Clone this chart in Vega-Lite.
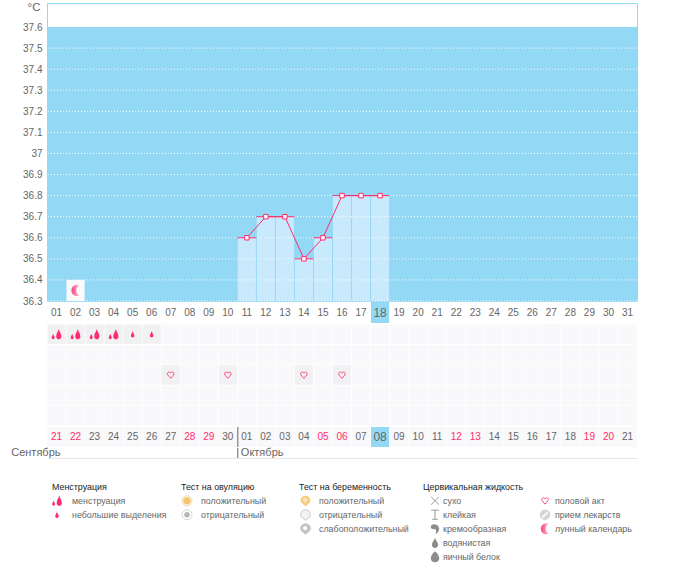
{
  "$schema": "https://vega.github.io/schema/vega-lite/v6.json",
  "background": "white",
  "padding": {"left": 11, "top": 0, "right": 0, "bottom": 0},
  "config": {
    "view": {"stroke": null},
    "font": "Liberation Sans",
    "text": {"font": "Liberation Sans"},
    "point": {"opacity": 1}
  },
  "datasets": {
    "days": [
      {"d":"01","date":"21","off":true},{"d":"02","date":"22","off":true},{"d":"03","date":"23","off":false},{"d":"04","date":"24","off":false},
      {"d":"05","date":"25","off":false},{"d":"06","date":"26","off":false},{"d":"07","date":"27","off":false},{"d":"08","date":"28","off":true},
      {"d":"09","date":"29","off":true},{"d":"10","date":"30","off":false},{"d":"11","date":"01","off":false},{"d":"12","date":"02","off":false},
      {"d":"13","date":"03","off":false},{"d":"14","date":"04","off":false},{"d":"15","date":"05","off":true},{"d":"16","date":"06","off":true},
      {"d":"17","date":"07","off":false},{"d":"18","date":"08","off":false},{"d":"19","date":"09","off":false},{"d":"20","date":"10","off":false},
      {"d":"21","date":"11","off":false},{"d":"22","date":"12","off":true},{"d":"23","date":"13","off":true},{"d":"24","date":"14","off":false},
      {"d":"25","date":"15","off":false},{"d":"26","date":"16","off":false},{"d":"27","date":"17","off":false},{"d":"28","date":"18","off":false},
      {"d":"29","date":"19","off":true},{"d":"30","date":"20","off":true},{"d":"31","date":"21","off":false}
    ],
    "temps": [
      {"d":"11","t":36.6},{"d":"12","t":36.7},{"d":"13","t":36.7},{"d":"14","t":36.5},
      {"d":"15","t":36.6},{"d":"16","t":36.8},{"d":"17","t":36.8},{"d":"18","t":36.8}
    ],
    "grid": [
      {"t":36.3},{"t":36.4},{"t":36.5},{"t":36.6},{"t":36.7},{"t":36.8},{"t":36.9},
      {"t":37.0},{"t":37.1},{"t":37.2},{"t":37.3},{"t":37.4},{"t":37.5}
    ],
    "cells": [
      {"d":"01","r":1},{"d":"02","r":1},{"d":"03","r":1},{"d":"04","r":1},{"d":"05","r":1},{"d":"06","r":1},{"d":"07","r":1},{"d":"08","r":1},{"d":"09","r":1},{"d":"10","r":1},{"d":"11","r":1},{"d":"12","r":1},{"d":"13","r":1},{"d":"14","r":1},{"d":"15","r":1},{"d":"16","r":1},{"d":"17","r":1},{"d":"18","r":1},{"d":"19","r":1},{"d":"20","r":1},{"d":"21","r":1},{"d":"22","r":1},{"d":"23","r":1},{"d":"24","r":1},{"d":"25","r":1},{"d":"26","r":1},{"d":"27","r":1},{"d":"28","r":1},{"d":"29","r":1},{"d":"30","r":1},{"d":"31","r":1},
      {"d":"01","r":2},{"d":"02","r":2},{"d":"03","r":2},{"d":"04","r":2},{"d":"05","r":2},{"d":"06","r":2},{"d":"07","r":2},{"d":"08","r":2},{"d":"09","r":2},{"d":"10","r":2},{"d":"11","r":2},{"d":"12","r":2},{"d":"13","r":2},{"d":"14","r":2},{"d":"15","r":2},{"d":"16","r":2},{"d":"17","r":2},{"d":"18","r":2},{"d":"19","r":2},{"d":"20","r":2},{"d":"21","r":2},{"d":"22","r":2},{"d":"23","r":2},{"d":"24","r":2},{"d":"25","r":2},{"d":"26","r":2},{"d":"27","r":2},{"d":"28","r":2},{"d":"29","r":2},{"d":"30","r":2},{"d":"31","r":2},
      {"d":"01","r":3},{"d":"02","r":3},{"d":"03","r":3},{"d":"04","r":3},{"d":"05","r":3},{"d":"06","r":3},{"d":"07","r":3},{"d":"08","r":3},{"d":"09","r":3},{"d":"10","r":3},{"d":"11","r":3},{"d":"12","r":3},{"d":"13","r":3},{"d":"14","r":3},{"d":"15","r":3},{"d":"16","r":3},{"d":"17","r":3},{"d":"18","r":3},{"d":"19","r":3},{"d":"20","r":3},{"d":"21","r":3},{"d":"22","r":3},{"d":"23","r":3},{"d":"24","r":3},{"d":"25","r":3},{"d":"26","r":3},{"d":"27","r":3},{"d":"28","r":3},{"d":"29","r":3},{"d":"30","r":3},{"d":"31","r":3},
      {"d":"01","r":4},{"d":"02","r":4},{"d":"03","r":4},{"d":"04","r":4},{"d":"05","r":4},{"d":"06","r":4},{"d":"07","r":4},{"d":"08","r":4},{"d":"09","r":4},{"d":"10","r":4},{"d":"11","r":4},{"d":"12","r":4},{"d":"13","r":4},{"d":"14","r":4},{"d":"15","r":4},{"d":"16","r":4},{"d":"17","r":4},{"d":"18","r":4},{"d":"19","r":4},{"d":"20","r":4},{"d":"21","r":4},{"d":"22","r":4},{"d":"23","r":4},{"d":"24","r":4},{"d":"25","r":4},{"d":"26","r":4},{"d":"27","r":4},{"d":"28","r":4},{"d":"29","r":4},{"d":"30","r":4},{"d":"31","r":4},
      {"d":"01","r":5},{"d":"02","r":5},{"d":"03","r":5},{"d":"04","r":5},{"d":"05","r":5},{"d":"06","r":5},{"d":"07","r":5},{"d":"08","r":5},{"d":"09","r":5},{"d":"10","r":5},{"d":"11","r":5},{"d":"12","r":5},{"d":"13","r":5},{"d":"14","r":5},{"d":"15","r":5},{"d":"16","r":5},{"d":"17","r":5},{"d":"18","r":5},{"d":"19","r":5},{"d":"20","r":5},{"d":"21","r":5},{"d":"22","r":5},{"d":"23","r":5},{"d":"24","r":5},{"d":"25","r":5},{"d":"26","r":5},{"d":"27","r":5},{"d":"28","r":5},{"d":"29","r":5},{"d":"30","r":5},{"d":"31","r":5}
    ],
    "events": [
      {"d":"01","r":1,"icon":"drop2"},{"d":"02","r":1,"icon":"drop2"},{"d":"03","r":1,"icon":"drop2"},{"d":"04","r":1,"icon":"drop2"},
      {"d":"05","r":1,"icon":"drop1"},{"d":"06","r":1,"icon":"drop1"}
    ],
    "acts": [
      {"d":"07","r":3},{"d":"10","r":3},{"d":"14","r":3},{"d":"16","r":3}
    ],
    "legendText": [
      {"col":1,"line":0,"label":"Менструация"},
      {"col":2,"line":0,"label":"Тест на овуляцию"},
      {"col":3,"line":0,"label":"Тест на беременность"},
      {"col":4,"line":0,"label":"Цервикальная жидкость"}
    ],
    "legendItems": [
      {"col":1.2,"line":1,"label":"менструация"},
      {"col":1.2,"line":2,"label":"небольшие выделения"},
      {"col":2.2,"line":1,"label":"положительный"},
      {"col":2.2,"line":2,"label":"отрицательный"},
      {"col":3.2,"line":1,"label":"положительный"},
      {"col":3.2,"line":2,"label":"отрицательный"},
      {"col":3.2,"line":3,"label":"слабоположительный"},
      {"col":4.2,"line":1,"label":"сухо"},
      {"col":4.2,"line":2,"label":"клейкая"},
      {"col":4.2,"line":3,"label":"кремообразная"},
      {"col":4.2,"line":4,"label":"водянистая"},
      {"col":4.2,"line":5,"label":"яичный белок"},
      {"col":5.2,"line":1,"label":"половой акт"},
      {"col":5.2,"line":2,"label":"прием лекарств"},
      {"col":5.2,"line":3,"label":"лунный календарь"}
    ],
    "legendFill": [
      {"col":1.1,"line":1,"icon":"drop2"},
      {"col":1.1,"line":2,"icon":"drop1"},
      {"col":2.1,"line":1,"icon":"coreOrange"},
      {"col":2.1,"line":2,"icon":"coreGrey"},
      {"col":3.1,"line":1,"icon":"shieldOrange"},
      {"col":3.1,"line":1,"icon":"blobPale"},
      {"col":3.1,"line":2,"icon":"shieldPale"},
      {"col":3.1,"line":3,"icon":"shieldGrey"},
      {"col":3.1,"line":3,"icon":"blobWhite"},
      {"col":4.1,"line":3,"icon":"cream"},
      {"col":4.1,"line":4,"icon":"water"},
      {"col":4.1,"line":5,"icon":"egg"},
      {"col":5.1,"line":2,"icon":"pill"},
      {"col":5.1,"line":2,"icon":"pillLine"}
    ],
    "legendOutline": [
      {"col":2.1,"line":1,"icon":"ringOrange"},
      {"col":2.1,"line":2,"icon":"ringGrey"},
      {"col":3.1,"line":2,"icon":"shieldLine"},
      {"col":3.1,"line":3,"icon":"shieldLine"},
      {"col":4.1,"line":1,"icon":"cross"},
      {"col":4.1,"line":2,"icon":"glue"},
      {"col":5.1,"line":1,"icon":"heart"}
    ]
  },
  "spacing": 1,
  "bounds": "flush",
  "vconcat": [
    {
      "width": 590,
      "height": 298,
      "view": {"stroke": "#93d9f6"},
      "encoding": {
        "x": {
          "field": "d",
          "type": "nominal",
          "axis": null,
          "scale": {
            "domain": ["01","02","03","04","05","06","07","08","09","10","11","12","13","14","15","16","17","18","19","20","21","22","23","24","25","26","27","28","29","30","31"],
            "paddingInner": 0.05,
            "paddingOuter": 0.025
          }
        },
        "y": {
          "field": "t",
          "type": "quantitative",
          "scale": {"domain": [36.3, 37.714], "nice": false, "zero": false},
          "axis": {
            "values": [36.3,36.4,36.5,36.6,36.7,36.8,36.9,37,37.1,37.2,37.3,37.4,37.5,37.6],
            "format": ".3~g",
            "labelOverlap": false,
            "grid": false,
            "domain": false,
            "ticks": false,
            "labelColor": "#666666",
            "labelFontSize": 10,
            "labelPadding": 5,
            "title": "°C",
            "titleColor": "#666666",
            "titleFontSize": 11.5,
            "titleFontWeight": "normal",
            "titleAngle": 0,
            "titleAlign": "right",
            "titleBaseline": "middle",
            "titleX": -7,
            "titleY": 4
          }
        }
      },
      "layer": [
        {
          "data": {"values": [{"t": 36.3, "hi": 37.6}]},
          "mark": {"type": "rect", "color": "#93d9f6"},
          "encoding": {
            "x": null,
            "y2": {"field": "hi"}
          }
        },
        {
          "data": {"name": "temps"},
          "mark": {"type": "bar", "color": "#c9eafd"},
          "encoding": {
            "y2": {"datum": 36.3}
          }
        },
        {
          "data": {"name": "grid"},
          "mark": {"type": "rule", "color": "white", "strokeDash": [1, 2], "strokeWidth": 1},
          "encoding": {
            "x": null
          }
        },
        {
          "data": {"values": [{"d": "02", "t": 36.3, "hi": 36.4}]},
          "mark": {"type": "rect", "color": "#fafafa"},
          "encoding": {
            "y2": {"field": "hi"}
          }
        },
        {
          "data": {"values": [{"d": "02", "t": 36.35}]},
          "mark": {
            "type": "point",
            "filled": true,
            "opacity": 1,
            "size": 196,
            "shape": "M0.55,-0.72 A0.8,0.8 0 1 0 0.55,0.72 A0.8,0.8 0 0 1 0.55,-0.72 Z",
            "fill": {"gradient": "linear", "x1": 0, "x2": 1, "y1": 0, "y2": 0, "stops": [{"offset": 0, "color": "#ff3a78"}, {"offset": 1, "color": "#ffc8da"}]}
          }
        },
        {
          "data": {"name": "temps"},
          "mark": {"type": "tick", "color": "#ff2d6d", "opacity": 1, "size": 19, "thickness": 1}
        },
        {
          "data": {"name": "temps"},
          "mark": {"type": "line", "color": "#ff2d6d", "strokeWidth": 1}
        },
        {
          "data": {"name": "temps"},
          "mark": {"type": "point", "shape": "square", "filled": true, "fill": "white", "stroke": "#ff2d6d", "strokeWidth": 1, "size": 20, "opacity": 1}
        }
      ]
    },
    {
      "width": 590,
      "height": 21,
      "data": {"name": "days"},
      "encoding": {
        "x": {"field": "d", "type": "nominal", "axis": null, "scale": {"paddingInner": 0.05, "paddingOuter": 0.025}}
      },
      "layer": [
        {
          "transform": [{"filter": "datum.d == '18'"}],
          "mark": {"type": "rect", "color": "#93d9f6"},
          "encoding": {}
        },
        {
          "mark": {"type": "text", "baseline": "middle", "color": "#666666"},
          "encoding": {
            "text": {"field": "d"},
            "size": {"condition": {"test": "datum.d == '18'", "value": 12}, "value": 10}
          }
        }
      ]
    },
    {
      "width": 590,
      "height": 102,
      "encoding": {
        "x": {
          "field": "d",
          "type": "nominal",
          "axis": null,
          "scale": {
            "domain": ["01","02","03","04","05","06","07","08","09","10","11","12","13","14","15","16","17","18","19","20","21","22","23","24","25","26","27","28","29","30","31"],
            "paddingInner": 0.05,
            "paddingOuter": 0.025
          }
        },
        "y": {
          "field": "r",
          "type": "ordinal",
          "axis": null,
          "scale": {"domain": [1, 2, 3, 4, 5], "paddingInner": 0.05, "paddingOuter": 0.025}
        }
      },
      "layer": [
        {
          "data": {"name": "cells"},
          "mark": {"type": "rect", "color": "#f9f8fa"}
        },
        {
          "data": {"name": "events"},
          "mark": {"type": "rect", "color": "#f1f1f3"}
        },
        {
          "data": {"name": "acts"},
          "mark": {"type": "rect", "color": "#f1f1f3"}
        },
        {
          "data": {"name": "events"},
          "mark": {"type": "point", "filled": true, "opacity": 1, "size": 196, "color": "#ff2d6d"},
          "encoding": {
            "shape": {
              "field": "icon",
              "type": "nominal",
              "legend": null,
              "scale": {
                "domain": ["drop2", "drop1"],
                "range": [
                  "M0.32,-0.75 C0.38,-0.4 0.69,-0.15 0.69,0.35 A0.37,0.37 0 0 1 -0.05,0.35 C-0.05,-0.15 0.26,-0.4 0.32,-0.75 Z M-0.48,-0.05 C-0.44,0.15 -0.27,0.3 -0.27,0.51 A0.21,0.21 0 0 1 -0.69,0.51 C-0.69,0.3 -0.52,0.15 -0.48,-0.05 Z",
                  "M0,-0.47 C0.04,-0.2 0.25,-0.05 0.25,0.22 A0.25,0.25 0 0 1 -0.25,0.22 C-0.25,-0.05 -0.04,-0.2 0,-0.47 Z"
                ]
              }
            }
          }
        },
        {
          "data": {"name": "acts"},
          "mark": {
            "type": "point",
            "opacity": 1,
            "size": 110,
            "color": "#ff4f86",
            "strokeWidth": 1,
            "shape": "M0,0.65 L-0.55,0 C-0.75,-0.3 -0.55,-0.6 -0.28,-0.58 C-0.15,-0.57 -0.05,-0.48 0,-0.35 C0.05,-0.48 0.15,-0.57 0.28,-0.58 C0.55,-0.6 0.75,-0.3 0.55,0 Z"
          }
        }
      ]
    },
    {
      "width": 590,
      "height": 20,
      "data": {"name": "days"},
      "encoding": {
        "x": {"field": "d", "type": "nominal", "axis": null, "scale": {"paddingInner": 0.05, "paddingOuter": 0.025}}
      },
      "layer": [
        {
          "mark": {"type": "rect"},
          "encoding": {
            "color": {"condition": {"test": "datum.d == '18'", "value": "#93d9f6"}, "value": "#f9f8fa"}
          }
        },
        {
          "mark": {"type": "text", "baseline": "middle"},
          "encoding": {
            "text": {"field": "date"},
            "color": {"condition": {"test": "datum.off", "value": "#ff2d6d"}, "value": "#666666"},
            "size": {"condition": {"test": "datum.d == '18'", "value": 12}, "value": 10}
          }
        },
        {
          "transform": [{"filter": "datum.d == '11'"}],
          "mark": {"type": "rule", "color": "#666666"},
          "encoding": {
            "x": {"field": "d", "type": "nominal", "bandPosition": 0}
          }
        }
      ]
    },
    {
      "width": 590,
      "height": 10,
      "encoding": {
        "x": {
          "field": "d",
          "type": "nominal",
          "axis": {"labels": false, "ticks": false, "title": null, "domainColor": "#e6e6e6", "grid": false},
          "scale": {
            "domain": ["01","02","03","04","05","06","07","08","09","10","11","12","13","14","15","16","17","18","19","20","21","22","23","24","25","26","27","28","29","30","31"],
            "paddingInner": 0.05,
            "paddingOuter": 0.025
          }
        }
      },
      "layer": [
        {
          "data": {"values": [{"d": "01", "month": "Сентябрь"}]},
          "mark": {"type": "text", "align": "right", "baseline": "middle", "fontSize": 11, "color": "#666666", "dx": 4, "dy": 0},
          "encoding": {"text": {"field": "month"}}
        },
        {
          "data": {"values": [{"d": "11", "month": "Октябрь"}]},
          "mark": {"type": "text", "align": "left", "baseline": "middle", "fontSize": 11, "color": "#666666", "dx": -6, "dy": 0},
          "encoding": {"text": {"field": "month"}}
        },
        {
          "data": {"values": [{"d": "11"}]},
          "mark": {"type": "rule", "color": "#666666"},
          "encoding": {
            "x": {"field": "d", "type": "nominal", "bandPosition": 0}
          }
        }
      ]
    },
    {
      "width": 590,
      "height": 127,
      "encoding": {
        "x": {
          "field": "col",
          "type": "quantitative",
          "axis": {"labels": false, "ticks": false, "title": null, "domainColor": "#e6e6e6", "grid": false},
          "scale": {
            "domain": [0, 1, 1.1, 1.2, 2, 2.1, 2.2, 3, 3.1, 3.2, 4, 4.1, 4.2, 5.1, 5.2, 6],
            "range": [0, 5, 10, 25, 134, 140, 154, 252, 258.5, 272, 376, 388, 396, 498, 508, 590]
          }
        },
        "y": {
          "field": "line",
          "type": "quantitative",
          "axis": null,
          "scale": {"domain": [-1.98, 7.09], "reverse": true, "nice": false, "zero": false}
        }
      },
      "layer": [
        {
          "data": {"name": "legendText"},
          "mark": {"type": "text", "align": "left", "baseline": "middle", "fontSize": 8.9, "color": "#222222"},
          "encoding": {"text": {"field": "label"}}
        },
        {
          "data": {"name": "legendItems"},
          "mark": {"type": "text", "align": "left", "baseline": "middle", "fontSize": 8.9, "color": "#666666"},
          "encoding": {"text": {"field": "label"}}
        },
        {
          "data": {"name": "legendFill"},
          "mark": {"type": "point", "filled": true, "opacity": 1, "size": 196},
          "encoding": {
            "shape": {
              "field": "icon",
              "type": "nominal",
              "legend": null,
              "scale": {
                "domain": ["drop2","drop1","coreOrange","coreGrey","shieldOrange","blobPale","shieldPale","shieldGrey","blobWhite","cream","water","egg","pill","pillLine"],
                "range": [
                  "M0.32,-0.75 C0.38,-0.4 0.69,-0.15 0.69,0.35 A0.37,0.37 0 0 1 -0.05,0.35 C-0.05,-0.15 0.26,-0.4 0.32,-0.75 Z M-0.48,-0.05 C-0.44,0.15 -0.27,0.3 -0.27,0.51 A0.21,0.21 0 0 1 -0.69,0.51 C-0.69,0.3 -0.52,0.15 -0.48,-0.05 Z",
                  "M0,-0.47 C0.04,-0.2 0.25,-0.05 0.25,0.22 A0.25,0.25 0 0 1 -0.25,0.22 C-0.25,-0.05 -0.04,-0.2 0,-0.47 Z",
                  "M-0.55,0 A0.55,0.55 0 1 1 0.55,0 A0.55,0.55 0 1 1 -0.55,0 Z",
                  "M-0.4,0 A0.4,0.4 0 1 1 0.4,0 A0.4,0.4 0 1 1 -0.4,0 Z",
                  "M0,0.8 L-0.6,0.3 C-0.85,-0.1 -0.6,-0.7 0,-0.7 C0.6,-0.7 0.85,-0.1 0.6,0.3 Z",
                  "M-0.35,-0.1 A0.3,0.3 0 1 1 0.25,-0.1 A0.3,0.3 0 1 1 -0.35,-0.1 Z",
                  "M0,0.8 L-0.6,0.3 C-0.85,-0.1 -0.6,-0.7 0,-0.7 C0.6,-0.7 0.85,-0.1 0.6,0.3 Z",
                  "M0,0.8 L-0.6,0.3 C-0.85,-0.1 -0.6,-0.7 0,-0.7 C0.6,-0.7 0.85,-0.1 0.6,0.3 Z",
                  "M-0.35,-0.1 A0.3,0.3 0 1 1 0.25,-0.1 A0.3,0.3 0 1 1 -0.35,-0.1 Z",
                  "M-0.6,-0.3 C-0.6,-0.7 0.2,-0.8 0.5,-0.3 C0.75,0.1 0.45,0.6 0.05,0.75 C0.3,0.3 0.1,0 -0.2,0.05 C-0.45,0.1 -0.6,-0.1 -0.6,-0.3 Z",
                  "M0,-0.7 C0.1,-0.3 0.45,-0.05 0.45,0.3 A0.45,0.45 0 0 1 -0.45,0.3 C-0.45,-0.05 -0.1,-0.3 0,-0.7 Z",
                  "M0,-0.75 C0.3,-0.6 0.6,-0.1 0.6,0.25 A0.6,0.55 0 0 1 -0.6,0.25 C-0.6,-0.1 -0.3,-0.6 0,-0.75 Z",
                  "M-0.75,0 A0.75,0.75 0 1 1 0.75,0 A0.75,0.75 0 1 1 -0.75,0 Z",
                  "M-0.45,0.3 L0.3,-0.45 L0.45,-0.3 L-0.3,0.45 Z"
                ]
              }
            },
            "color": {
              "field": "icon",
              "type": "nominal",
              "legend": null,
              "scale": {
                "domain": ["drop2","drop1","coreOrange","coreGrey","shieldOrange","blobPale","shieldPale","shieldGrey","blobWhite","cream","water","egg","pill","pillLine"],
                "range": ["#ff2d6d","#ff2d6d","#f6c56d","#b3b3b3","#f6cd7e","#fbe6bd","#f2f2f2","#c2c2c2","#ffffff","#8c8c8c","#8c8c8c","#8c8c8c","#d6d6d6","#ffffff"]
              }
            }
          }
        },
        {
          "data": {"name": "legendOutline"},
          "mark": {"type": "point", "opacity": 1, "size": 196, "strokeWidth": 1},
          "encoding": {
            "shape": {
              "field": "icon",
              "type": "nominal",
              "legend": null,
              "scale": {
                "domain": ["ringOrange","ringGrey","shieldLine","cross","glue","heart"],
                "range": [
                  "M-0.72,0 A0.72,0.72 0 1 1 0.72,0 A0.72,0.72 0 1 1 -0.72,0 Z",
                  "M-0.72,0 A0.72,0.72 0 1 1 0.72,0 A0.72,0.72 0 1 1 -0.72,0 Z",
                  "M0,0.8 L-0.6,0.3 C-0.85,-0.1 -0.6,-0.7 0,-0.7 C0.6,-0.7 0.85,-0.1 0.6,0.3 Z",
                  "M-0.55,-0.55 L0.55,0.55 M-0.55,0.55 L0.55,-0.55",
                  "M-0.55,-0.65 L0.55,-0.65 M0,-0.65 L0,0.65 M-0.4,0.65 L0.4,0.65",
                  "M0,0.49 L-0.41,0 C-0.56,-0.22 -0.41,-0.45 -0.21,-0.43 C-0.11,-0.43 -0.04,-0.36 0,-0.26 C0.04,-0.36 0.11,-0.43 0.21,-0.43 C0.41,-0.45 0.56,-0.22 0.41,0 Z"
                ]
              }
            },
            "color": {
              "field": "icon",
              "type": "nominal",
              "legend": null,
              "scale": {
                "domain": ["ringOrange","ringGrey","shieldLine","cross","glue","heart"],
                "range": ["#ecd9b0","#d5d5d5","#c8c8c8","#999999","#999999","#ff4f86"]
              }
            }
          }
        },
        {
          "data": {"values": [{"col": 5.1, "line": 3}]},
          "mark": {
            "type": "point",
            "filled": true,
            "opacity": 1,
            "size": 196,
            "shape": "M0.55,-0.72 A0.8,0.8 0 1 0 0.55,0.72 A0.8,0.8 0 0 1 0.55,-0.72 Z",
            "fill": {"gradient": "linear", "x1": 0, "x2": 1, "y1": 0, "y2": 0, "stops": [{"offset": 0, "color": "#ff3a78"}, {"offset": 1, "color": "#ffc8da"}]}
          }
        }
      ],
      "resolve": {"scale": {"shape": "independent", "color": "independent"}}
    }
  ]
}
